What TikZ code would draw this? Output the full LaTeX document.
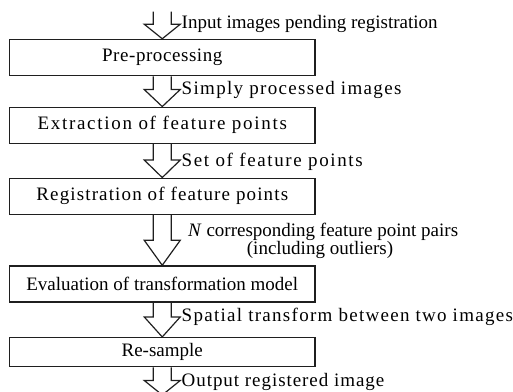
\documentclass[tikz,border=0pt]{standalone}
\usepackage{fontspec}
\setmainfont{Liberation Serif}
\usetikzlibrary{calc}

\newcommand\mainsize{\fontsize{19}{22}\selectfont}
% letter-spaced text: #1 = tracking, #2 = text
\newcommand\trk[2]{{\addfontfeature{LetterSpace=#1}#2}}

\tikzset{
  stage/.style={draw=black!88, line width=1.5pt, minimum width=305.5pt,
                inner sep=0pt, font=\mainsize},
  blockarr/.style={draw=black!88, line width=1.2pt, line join=miter},
  lbl/.style={inner sep=0pt, font=\mainsize, anchor=base west},
}

% hollow block arrow from point #1 down to tip #2 with head length #3
\newcommand\blockarrow[3]{%
  \draw[blockarr] ($(#1)+(-9,0)$) -- ($(#2)+(-9,-#3)$) -- ($(#2)+(-18,-#3)$)
    -- (#2) -- ($(#2)+(18,-#3)$) -- ($(#2)+(9,-#3)$) -- ($(#1)+(9,0)$);}

\begin{document}
\begin{tikzpicture}[x=1pt, y=-1pt]
  \useasboundingbox (0,0) rectangle (513,391);
  \clip (0,0) rectangle (513,391);

  % processing stages
  \node[stage, minimum height=36pt]   (pre) at (162.25,57.5)  {\trk{3}{Pre-processing}};
  \node[stage, minimum height=36pt]   (ext) at (162.25,125.3) {\trk{9}{Extraction of feature points}};
  \node[stage, minimum height=36pt]   (reg) at (162.25,196.3) {\trk{6}{Registration of feature points}};
  \node[stage, minimum height=35.7pt] (eva) at (162.25,283.9) {Evaluation of transformation model};
  \node[stage, minimum height=29pt]   (res) at (162.25,352.2) {Re-sample};

  % free ends of the first and last arrows
  \coordinate (in)  at (162.25,11.7);
  \coordinate (out) at (162.25,395);

  % data-flow arrows
  \blockarrow{in}{pre.north}{14.5}
  \blockarrow{pre.south}{ext.north}{17}
  \blockarrow{ext.south}{reg.north}{17.5}
  \blockarrow{reg.south}{eva.north}{25}
  \blockarrow{eva.south}{res.north}{20}
  \blockarrow{res.south}{out}{14.5}

  % arrow labels
  \node[lbl] (l1) at (181.5,28)  {Input images pending registration};
  \node[lbl] (l2) at (181.5,94)  {\trk{7}{Simply processed images}};
  \node[lbl] (l3) at (181.5,166) {\trk{8.5}{Set of feature points}};
  \node[lbl] (l4) at (188,236)   {\textit{N} corresponding feature point pairs};
  \node[inner sep=0pt, font=\mainsize, anchor=base] (l4b) at (320,254.5) {(including outliers)};
  \node[lbl] (l5) at (181.5,321) {\trk{6.8}{Spatial transform between two images}};
  \node[lbl] (l6) at (181.5,386.5) {\trk{5}{Output registered image}};
\end{tikzpicture}
\end{document}
